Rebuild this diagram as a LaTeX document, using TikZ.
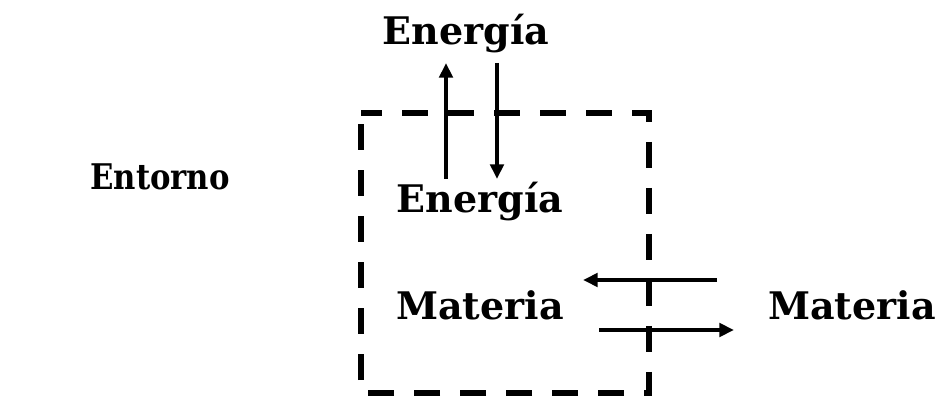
\documentclass[tikz,border=0pt]{standalone}
\usepackage{fontspec}
\setmainfont{DejaVu Serif}
\newfontfamily\entornofont[FakeStretch=0.87]{DejaVu Serif}
\usetikzlibrary{arrows.meta}

\begin{document}
\begin{tikzpicture}[x=0.75pt, y=-0.75pt,
  every node/.style={inner sep=0pt, anchor=base},
  rotulo/.style={font=\fontsize{28.5}{32}\selectfont\bfseries},
  flujo/.style={line width=2.8pt, -{Triangle[length=11pt,width=10pt]}},
  sistema/.style={line width=4.5pt, dash pattern=on 19.5pt off 15pt, dash phase=3.75pt}]
  \useasboundingbox (0,0) rectangle (941,398);
  % frontera del sistema
  \draw[sistema] (361,113) -- (649,113) -- (649,393) -- (361,393) -- cycle;
  % textos
  \node[font=\entornofont\fontsize{26.5}{30}\selectfont\bfseries] (entorno) at (160,190) {Entorno};
  \node[rotulo] (energiaFuera) at (466,45) {Energía};
  \node[rotulo] (energiaDentro) at (480,213) {Energía};
  \node[rotulo] (materiaDentro) at (480,320) {Materia};
  \node[rotulo] (materiaFuera) at (852,320) {Materia};
  % extremos de las flechas
  \coordinate (sale1) at (446,179);
  \coordinate (sale2) at (446,63);
  \coordinate (entra1) at (497,63);
  \coordinate (entra2) at (497,179);
  \coordinate (matEntra1) at (717,280);
  \coordinate (matEntra2) at (583,280);
  \coordinate (matSale1) at (599,330);
  \coordinate (matSale2) at (734,330);
  \draw[flujo] (sale1) -- (sale2);
  \draw[flujo] (entra1) -- (entra2);
  \draw[flujo] (matEntra1) -- (matEntra2);
  \draw[flujo] (matSale1) -- (matSale2);
\end{tikzpicture}
\end{document}
